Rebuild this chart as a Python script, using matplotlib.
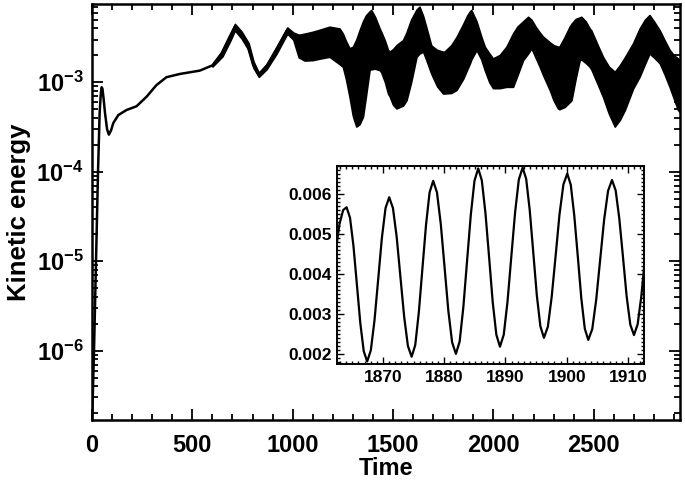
import numpy as np
import matplotlib
matplotlib.use("Agg")
import matplotlib.pyplot as plt
from matplotlib.ticker import MultipleLocator, LogLocator, NullFormatter

plt.rcParams['font.family'] = ['Liberation Sans', 'DejaVu Sans']
plt.rcParams['font.weight'] = 'bold'
plt.rcParams['mathtext.fontset'] = 'custom'
plt.rcParams['mathtext.rm'] = 'Liberation Sans:bold'
plt.rcParams['mathtext.bf'] = 'Liberation Sans:bold'

# early, thin part of the kinetic energy curve
time_early = [0, 10, 20, 30, 38, 44, 48, 52, 58, 65, 75, 84, 95, 106, 131, 172, 222,
              272, 321, 371, 438, 537, 604, 646, 686, 712, 744, 777, 803, 831, 869,
              918, 973, 1003, 1030]
ke_early = [1.5e-7, 1.0e-6, 1.0e-5, 1.0e-4, 4.5e-4, 7.5e-4, 8.8e-4, 8.5e-4, 6.5e-4,
            4.5e-4, 3.0e-4, 2.6e-4, 2.9e-4, 3.5e-4, 4.3e-4, 4.9e-4, 5.4e-4,
            6.9e-4, 9.3e-4, 1.14e-3, 1.24e-3, 1.35e-3, 1.56e-3, 2.11e-3, 3.23e-3,
            4.18e-3, 3.38e-3, 2.5e-3, 1.56e-3, 1.21e-3, 1.49e-3,
            2.3e-3, 3.84e-3, 3.23e-3, 2.6e-3]

# envelope of the fast oscillation (black band)
time_band = [600, 650, 690, 712, 745, 780, 805, 831, 870, 920, 973, 1003, 1030, 1060,
             1100, 1140, 1183, 1233, 1250, 1265, 1283, 1300, 1317, 1333, 1350, 1365,
             1383, 1391, 1410, 1433, 1441, 1460, 1475, 1483, 1500, 1517, 1550, 1567,
             1590, 1617, 1632, 1650, 1665, 1690, 1698, 1720, 1749, 1756, 1790, 1816,
             1850, 1870, 1883, 1890, 1916, 1940, 1957, 1980, 1998, 2032, 2065, 2098,
             2120, 2148, 2173, 2190, 2210, 2231, 2248, 2281, 2300, 2322, 2329, 2355,
             2380, 2389, 2410, 2430, 2438, 2460, 2480, 2488, 2520, 2546, 2575, 2605,
             2630, 2655, 2696, 2729, 2755, 2778, 2800, 2829, 2855, 2878, 2900, 2920,
             2935]
ke_lower = [1.50e-3, 1.95e-3, 2.95e-3, 3.8e-3, 3.1e-3, 2.3e-3, 1.45e-3, 1.15e-3, 1.4e-3,
            2.1e-3, 3.5e-3, 3.0e-3, 1.9e-3, 1.75e-3,
            1.77e-3, 1.85e-3, 1.93e-3, 1.6e-3, 1.49e-3, 1.1e-3, 6.9e-4, 4.2e-4, 3.2e-4,
            3.4e-4, 4.1e-4, 7.0e-4,
            1.37e-3, 1.4e-3, 1.42e-3, 1.37e-3, 1.3e-3, 1.0e-3, 7.5e-4, 7.0e-4, 5.6e-4,
            5.1e-4, 5.5e-4, 6.3e-4,
            1.0e-3, 1.93e-3, 2.1e-3, 2.2e-3, 1.8e-3, 1.26e-3, 1.15e-3, 9.0e-4, 7.5e-4,
            7.5e-4, 7.6e-4, 8.2e-4,
            1.1e-3, 1.4e-3, 1.63e-3, 1.8e-3, 2.3e-3, 1.8e-3, 1.37e-3, 1.0e-3, 8.6e-4,
            8.6e-4, 8.9e-4, 8.9e-4,
            1.2e-3, 1.77e-3, 2.1e-3, 2.4e-3, 1.9e-3, 1.49e-3, 1.2e-3, 8.2e-4, 6.3e-4,
            5.1e-4, 5.0e-4, 5.3e-4,
            6.0e-4, 6.3e-4, 1.1e-3, 1.77e-3, 1.8e-3, 1.65e-3, 1.49e-3, 1.4e-3, 9.5e-4,
            6.9e-4, 4.5e-4, 3.2e-4,
            3.8e-4, 4.9e-4, 8.5e-4, 1.16e-3, 1.6e-3, 2.1e-3, 1.9e-3, 1.63e-3, 1.2e-3,
            8.9e-4, 6.5e-4, 4.9e-4,
            4.5e-4]
ke_upper = [1.62e-3, 2.25e-3, 3.5e-3, 4.5e-3, 3.7e-3, 2.75e-3, 1.7e-3, 1.28e-3, 1.6e-3,
            2.5e-3, 4.1e-3, 3.6e-3, 3.4e-3, 3.5e-3,
            3.67e-3, 3.9e-3, 4.18e-3, 4.0e-3, 3.5e-3, 2.9e-3, 2.4e-3, 2.5e-3, 3.0e-3,
            3.8e-3, 4.8e-3, 5.6e-3,
            6.2e-3, 6.43e-3, 5.4e-3, 4.0e-3, 3.67e-3, 2.9e-3, 2.3e-3, 2.2e-3, 2.35e-3,
            2.6e-3, 2.97e-3, 3.6e-3,
            5.0e-3, 6.5e-3, 7.0e-3, 5.5e-3, 4.18e-3, 2.6e-3, 2.5e-3, 2.3e-3, 2.2e-3,
            2.2e-3, 2.6e-3, 3.2e-3,
            4.5e-3, 5.6e-3, 6.2e-3, 6.43e-3, 4.8e-3, 3.23e-3, 2.5e-3, 2.1e-3, 1.85e-3,
            2.02e-3, 2.5e-3, 3.52e-3,
            4.2e-3, 4.8e-3, 5.4e-3, 5.0e-3, 4.2e-3, 3.6e-3, 3.23e-3, 2.8e-3, 2.6e-3,
            2.5e-3, 2.5e-3, 3.2e-3,
            4.18e-3, 4.5e-3, 5.1e-3, 5.3e-3, 5.4e-3, 4.8e-3, 4.0e-3, 3.8e-3, 2.6e-3,
            1.93e-3, 1.5e-3, 1.31e-3,
            1.55e-3, 1.9e-3, 2.73e-3, 4.0e-3, 5.0e-3, 5.65e-3, 4.8e-3, 3.8e-3, 2.9e-3,
            2.3e-3, 2.0e-3, 1.85e-3,
            1.75e-3]

# inset: zoom on 1862-1913 (values in units of 1e-3)
time_inset = [1862.3, 1862.9, 1863.5, 1864.06,
              1864.62, 1865.18, 1865.74, 1866.30, 1866.86, 1867.42,
              1868.02, 1868.62, 1869.22, 1869.82, 1870.42, 1871.02,
              1871.63, 1872.24, 1872.85, 1873.46, 1874.07, 1874.68,
              1875.27, 1875.85, 1876.44, 1877.03, 1877.61, 1878.20,
              1878.82, 1879.44, 1880.06, 1880.67, 1881.29, 1881.91,
              1882.52, 1883.12, 1883.73, 1884.34, 1884.94, 1885.55,
              1886.14, 1886.73, 1887.33, 1887.92, 1888.51, 1889.10,
              1889.72, 1890.33, 1890.95, 1891.57, 1892.18, 1892.80,
              1893.38, 1893.96, 1894.54, 1895.12, 1895.70, 1896.28,
              1896.92, 1897.55, 1898.19, 1898.82, 1899.46, 1900.09,
              1900.66, 1901.23, 1901.81, 1902.38, 1902.95, 1903.52,
              1904.17, 1904.81, 1905.46, 1906.10, 1906.75, 1907.39,
              1907.99, 1908.59, 1909.19, 1909.78, 1910.38, 1910.98,
              1911.58, 1912.18, 1912.78]
ke_inset = [4.60, 5.25, 5.60, 5.67,
            5.41, 4.71, 3.75, 2.78, 2.08, 1.82,
            2.10, 2.85, 3.87, 4.90, 5.65, 5.92,
            5.65, 4.93, 3.93, 2.94, 2.21, 1.94,
            2.23, 3.04, 4.14, 5.23, 6.04, 6.33,
            6.04, 5.25, 4.17, 3.09, 2.30, 2.01,
            2.32, 3.17, 4.33, 5.48, 6.33, 6.64,
            6.34, 5.53, 4.42, 3.30, 2.49, 2.19,
            2.49, 3.31, 4.43, 5.54, 6.36, 6.66,
            6.38, 5.60, 4.54, 3.47, 2.70, 2.41,
            2.69, 3.44, 4.46, 5.49, 6.24, 6.51,
            6.23, 5.47, 4.44, 3.40, 2.64, 2.36,
            2.63, 3.36, 4.36, 5.35, 6.08, 6.35,
            6.09, 5.38, 4.42, 3.45, 2.74, 2.48,
            2.75, 3.45, 4.40]

fig = plt.figure(figsize=(6.85, 4.83), dpi=100)
ax = fig.add_axes([0.1343, 0.1304, 0.8584, 0.8613])
ax.set_yscale('log')
ax.plot(time_early, ke_early, color='black', lw=1.8)
ax.fill_between(time_band, ke_lower, ke_upper, color='black', lw=1.2)
ax.set_xlim(0, 2930)
ax.set_ylim(1.68e-7, 7.5e-3)

ax.set_xticks([0, 500, 1000, 1500, 2000, 2500])
ax.xaxis.set_minor_locator(MultipleLocator(100))
ax.set_yticks([1e-6, 1e-5, 1e-4, 1e-3])
ax.set_yticklabels([r'$\mathbf{10^{-6}}$', r'$\mathbf{10^{-5}}$',
                    r'$\mathbf{10^{-4}}$', r'$\mathbf{10^{-3}}$'])
ax.yaxis.set_minor_locator(LogLocator(base=10, subs=np.arange(2, 10)))
ax.yaxis.set_minor_formatter(NullFormatter())
ax.tick_params(which='both', direction='in', top=True, right=True, width=1.3,
               labelsize=17)
ax.tick_params(which='major', length=8, pad=6)
ax.tick_params(axis='x', which='major', pad=10)
ax.tick_params(which='minor', length=4)
for s in ax.spines.values():
    s.set_linewidth(1.8)
ax.set_xlabel('Time', fontsize=17, fontweight='bold', labelpad=0)
ax.set_ylabel('Kinetic energy', fontsize=18.5, fontweight='bold', labelpad=4)

axin = fig.add_axes([0.492, 0.2457, 0.448, 0.4106])
axin.plot(time_inset, np.array(ke_inset) * 1e-3, color='black', lw=1.6)
axin.set_xlim(1862.5, 1912.6)
axin.set_ylim(0.00175, 0.0067)
axin.set_xticks([1870, 1880, 1890, 1900, 1910])
axin.set_yticks([0.002, 0.003, 0.004, 0.005, 0.006])
axin.set_yticklabels(['0.002', '0.003', '0.004', '0.005', '0.006'])
axin.xaxis.set_minor_locator(MultipleLocator(1))
axin.yaxis.set_minor_locator(MultipleLocator(0.0001))
axin.tick_params(which='both', direction='in', top=True, right=True, width=1.0,
                 labelsize=12.5)
axin.tick_params(which='major', length=5, pad=4)
axin.tick_params(which='minor', length=2)
for s in axin.spines.values():
    s.set_linewidth(1.4)

fig.savefig('out.png', dpi=100)
